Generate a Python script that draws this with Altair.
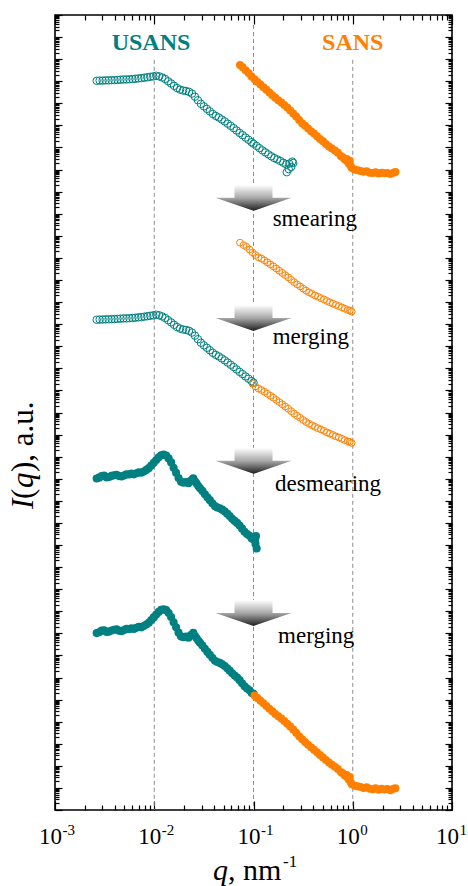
import altair as alt
import pandas as pd

TEAL = "#008080"
ORANGE = "#ff8000"
FONT = "Liberation Serif"

# ---------------- data (log10 q in nm^-1, log10 I in a.u.) ----------------
# slit-smeared USANS (top panel)
usans_sm_lq = [-2.58, -2.55, -2.52, -2.49, -2.46, -2.43, -2.40, -2.37, -2.34, -2.31, -2.28, -2.25,
               -2.22, -2.19, -2.16, -2.13, -2.10, -2.07, -2.04, -2.01, -1.98, -1.95, -1.92, -1.89,
               -1.86, -1.83, -1.80, -1.77, -1.74, -1.71, -1.68, -1.65, -1.62, -1.59, -1.56, -1.53,
               -1.50, -1.47, -1.44, -1.41, -1.38, -1.35, -1.32, -1.29, -1.26, -1.23, -1.20, -1.17,
               -1.14, -1.11, -1.08, -1.05, -1.02, -1.00, -0.97, -0.94, -0.91, -0.88, -0.85, -0.82,
               -0.79, -0.76, -0.73, -0.70, -0.67, -0.64, -0.61, -0.665, -0.62, -0.645, -0.60]
usans_sm_le = [33.02, 33.03, 33.03, 33.04, 33.04, 33.05, 33.05, 33.06, 33.07, 33.08, 33.08, 33.09,
               33.10, 33.11, 33.13, 33.14, 33.16, 33.18, 33.20, 33.22, 33.25, 33.22, 33.17, 33.10,
               33.00, 32.90, 32.79, 32.69, 32.62, 32.58, 32.56, 32.52, 32.44, 32.30, 32.14, 31.98,
               31.86, 31.75, 31.64, 31.52, 31.43, 31.36, 31.27, 31.18, 31.08, 30.98, 30.88, 30.77,
               30.66, 30.56, 30.45, 30.35, 30.24, 30.17, 30.07, 29.97, 29.87, 29.78, 29.69, 29.60,
               29.52, 29.46, 29.39, 29.31, 29.24, 29.27, 29.36, 28.88, 29.12, 29.02, 29.30]

# SANS (top panel)
sans_lq = [-1.136, -1.11, -1.08, -1.05, -1.02, -0.99, -0.96, -0.93, -0.90, -0.87, -0.84, -0.81,
           -0.78, -0.75, -0.72, -0.69, -0.66, -0.63, -0.60, -0.57, -0.54, -0.51, -0.48, -0.45,
           -0.42, -0.39, -0.36, -0.33, -0.30, -0.27, -0.24, -0.21, -0.18, -0.15, -0.12, -0.10,
           -0.08, -0.06, -0.05, -0.04, -0.03, -0.02, -0.01, 0.02, 0.05, 0.08, 0.11, 0.14, 0.17,
           0.20, 0.23, 0.26, 0.29, 0.32, 0.35, 0.38, 0.41, 0.43]
sans_le = [33.74, 33.63, 33.50, 33.37, 33.22, 33.09, 32.97, 32.85, 32.73, 32.61, 32.49, 32.37,
           32.25, 32.14, 32.04, 31.93, 31.81, 31.68, 31.54, 31.40, 31.24, 31.10, 30.98, 30.86,
           30.74, 30.63, 30.51, 30.39, 30.28, 30.16, 30.05, 29.95, 29.86, 29.76, 29.62, 29.56,
           29.46, 29.48, 29.36, 29.28, 29.40, 29.16, 29.07, 29.00, 28.97, 28.94, 28.90, 28.93, 28.86,
           28.84, 28.88, 28.82, 28.86, 28.83, 28.85, 28.80, 28.86, 28.89]

# slit-smeared SANS (second panel)
sans_sm_lq = [-1.136, -1.10, -1.07, -1.04, -1.01, -0.98, -0.95, -0.92, -0.89, -0.86, -0.83, -0.80,
              -0.77, -0.74, -0.71, -0.68, -0.65, -0.62, -0.59, -0.56, -0.53, -0.50, -0.47, -0.44,
              -0.41, -0.38, -0.35, -0.32, -0.29, -0.26, -0.23, -0.20, -0.17, -0.14, -0.11, -0.08,
              -0.05, -0.03, -0.011]
sans_sm_le = [25.69, 25.58, 25.50, 25.38, 25.25, 25.13, 25.03, 24.97, 24.89, 24.80, 24.71, 24.62,
              24.52, 24.42, 24.32, 24.22, 24.12, 24.01, 23.90, 23.80, 23.71, 23.61, 23.52, 23.44,
              23.37, 23.30, 23.24, 23.18, 23.12, 23.05, 22.99, 22.93, 22.87, 22.82, 22.76, 22.70,
              22.64, 22.62, 22.57]

# desmeared USANS (fourth panel)
usans_ds_lq = [-2.580, -2.555, -2.530, -2.505, -2.480, -2.455, -2.430, -2.405, -2.380, -2.355,
               -2.330, -2.305, -2.280, -2.255, -2.230, -2.205, -2.180, -2.155, -2.130, -2.105,
               -2.080, -2.055, -2.030, -2.005, -1.980, -1.955, -1.930, -1.905, -1.880, -1.855,
               -1.830, -1.805, -1.780, -1.755, -1.730, -1.705, -1.680, -1.655, -1.630, -1.607,
               -1.590, -1.573, -1.555, -1.539, -1.515, -1.490, -1.465, -1.440, -1.415, -1.388,
               -1.365, -1.340, -1.315, -1.290, -1.265, -1.240, -1.215, -1.190, -1.165, -1.140,
               -1.115, -1.090, -1.065, -1.040, -1.018, -1.000, -0.985, -0.975, -0.968, -0.980]
usans_ds_le = [15.01, 15.05, 15.12, 15.14, 15.06, 15.08, 15.13, 15.16, 15.18, 15.12,
               15.10, 15.15, 15.20, 15.19, 15.23, 15.20, 15.25, 15.29, 15.27, 15.33,
               15.40, 15.48, 15.60, 15.72, 15.85, 15.97, 16.06, 16.09, 16.05, 15.92,
               15.74, 15.50, 15.27, 15.03, 14.86, 14.82, 14.85, 14.80, 14.92, 15.02,
               14.88, 14.78, 14.66, 14.57, 14.45, 14.30, 14.16, 14.03, 13.89, 13.76,
               13.70, 13.66, 13.60, 13.52, 13.42, 13.31, 13.19, 13.09, 13.00, 12.88,
               12.74, 12.60, 12.50, 12.42, 12.30, 12.26, 12.23, 12.40, 11.84, 12.05]

# vertical shifts (decades) of the lower panels
shift_usans_sm_merge = -10.82
shift_sans_sm_merge = -5.95
shift_usans_ds_merge = -7.0
shift_sans_merge = -27.9

# annotations
label_q = [0.00927, 1.0]
label_le = [34.42, 34.42]
step_text = ["smearing", "merging", "desmearing", "merging"]
step_q = [0.156, 0.156, 0.165, 0.177]
step_le = [26.45, 21.10, 14.45, 7.56]
arrow_q = [0.1, 0.1, 0.1, 0.1]
arrow_le = [27.72, 22.28, 15.81, 8.92]
grid_q = [0.01, 0.1, 1.0]
grid_top_le = [33.97, 35.55, 33.97]

x_major = [1e-3, 1e-2, 1e-1, 1e0, 1e1]
x_minor = [m * 10.0 ** k for k in range(-3, 1) for m in range(2, 10)]
y_major = [10.0 ** k for k in range(0, 37)]
y_minor = [m * 10.0 ** k for k in range(0, 36) for m in range(2, 10)]


def frame(lq, le, shift=0.0, lo=None, hi=None):
    rows = []
    for a, b in zip(lq, le):
        if lo is not None and a < lo - 1e-9:
            continue
        if hi is not None and a > hi + 1e-9:
            continue
        rows.append({"q": 10.0 ** a, "I": 10.0 ** (b + shift)})
    return pd.DataFrame(rows)


xs = alt.Scale(type="log", domain=[1e-3, 1e1])
ys = alt.Scale(type="log", domain=[1, 1e36])


def pts(df, color, filled, size):
    return alt.Chart(df).mark_point(
        shape="circle", filled=filled, color=color, size=size,
        strokeWidth=1, opacity=1
    ).encode(
        x=alt.X("q:Q", scale=xs, axis=None),
        y=alt.Y("I:Q", scale=ys, axis=None),
    )


open_teal = pd.concat([
    frame(usans_sm_lq, usans_sm_le),
    frame(usans_sm_lq, usans_sm_le, shift_usans_sm_merge, hi=-1.0),
])
open_orange = pd.concat([
    frame(sans_sm_lq, sans_sm_le),
    frame(sans_sm_lq, sans_sm_le, shift_sans_sm_merge, lo=-1.01),
])
filled_teal = pd.concat([
    frame(usans_ds_lq, usans_ds_le),
    frame(usans_ds_lq, usans_ds_le, shift_usans_ds_merge, hi=-1.0),
])
filled_orange = pd.concat([
    frame(sans_lq, sans_le),
    frame(sans_lq, sans_le, shift_sans_merge, lo=-1.0),
])

# grid lines
grid_df = pd.DataFrame({"q": grid_q, "top": [10.0 ** v for v in grid_top_le], "bot": [1.0] * 3})
grid = alt.Chart(grid_df).mark_rule(color="#8c8c8c", strokeDash=[4, 3], strokeWidth=1).encode(
    x=alt.X("q:Q", scale=xs, axis=None),
    y=alt.Y("top:Q", scale=ys, axis=None),
    y2="bot:Q",
)

# arrows
arrow_df = pd.DataFrame({"q": arrow_q, "I": [10.0 ** v for v in arrow_le]})
arrow_path = "M-0.5,-0.342L0.5,-0.342L0.5,0L1,0L0,0.342L-1,0L-0.5,0Z"
arrows = alt.Chart(arrow_df).mark_point(
    shape=arrow_path, size=5776, filled=True, opacity=1, strokeWidth=0,
    fill=alt.LinearGradient(
        gradient="linear", x1=0, y1=0, x2=0, y2=1,
        stops=[alt.GradientStop(color="#ffffff", offset=0),
               alt.GradientStop(color="#a8a8a8", offset=0.5),
               alt.GradientStop(color="#1e1e1e", offset=1)],
    ),
).encode(
    x=alt.X("q:Q", scale=xs, axis=None),
    y=alt.Y("I:Q", scale=ys, axis=None),
)

# step labels
step_df = pd.DataFrame({"q": step_q, "I": [10.0 ** v for v in step_le], "t": step_text})
steps = alt.Chart(step_df).mark_text(
    align="left", baseline="alphabetic", font=FONT, fontSize=23, color="black"
).encode(
    x=alt.X("q:Q", scale=xs, axis=None),
    y=alt.Y("I:Q", scale=ys, axis=None),
    text="t:N",
)

lab_usans = alt.Chart(pd.DataFrame({"q": [label_q[0]], "I": [10.0 ** label_le[0]], "t": ["USANS"]})).mark_text(
    align="center", baseline="alphabetic", font=FONT, fontSize=24, fontWeight="bold", color=TEAL
).encode(x=alt.X("q:Q", scale=xs, axis=None), y=alt.Y("I:Q", scale=ys, axis=None), text="t:N")
lab_sans = alt.Chart(pd.DataFrame({"q": [label_q[1]], "I": [10.0 ** label_le[1]], "t": ["SANS"]})).mark_text(
    align="center", baseline="alphabetic", font=FONT, fontSize=24, fontWeight="bold", color=ORANGE
).encode(x=alt.X("q:Q", scale=xs, axis=None), y=alt.Y("I:Q", scale=ys, axis=None), text="t:N")

# axes (inward ticks via negative offset)
dummy = pd.DataFrame({"q": [1.0], "I": [1.0]})


def tick_axis(orient, values, size):
    return alt.Axis(orient=orient, values=values, labels=False, domain=False, grid=False,
                    ticks=True, tickSize=size, tickWidth=1.2, tickColor="black",
                    offset=-size, title=None)


def axis_layer(xaxis, yaxis):
    return alt.Chart(dummy).mark_point(opacity=0).encode(
        x=alt.X("q:Q", scale=xs, axis=xaxis),
        y=alt.Y("I:Q", scale=ys, axis=yaxis),
    )


ax1 = axis_layer(tick_axis("bottom", x_major, 9), tick_axis("left", y_major, 7))
ax2 = axis_layer(tick_axis("bottom", x_minor, 5), tick_axis("left", y_minor, 4))
ax3 = axis_layer(tick_axis("top", x_major, 9), tick_axis("right", y_major, 7))
ax4 = axis_layer(tick_axis("top", x_minor, 5), tick_axis("right", y_minor, 4))

lab_ten = axis_layer(
    alt.Axis(orient="bottom", values=x_major, labelExpr="'10'", ticks=False, tickSize=0,
             domain=False, grid=False, labelFont=FONT, labelFontSize=23, labelColor="black",
             labelBaseline="alphabetic", labelPadding=33, labelAlign="center", labelOffset=-5,
             labelOverlap=False, labelFlush=False, labelBound=False, title=None),
    None,
)
lab_exp = axis_layer(
    alt.Axis(orient="bottom", values=x_major, labelExpr="'' + round(log(datum.value) / LN10)",
             ticks=False, tickSize=0, domain=False, grid=False, labelFont=FONT,
             labelFontSize=15, labelColor="black", labelBaseline="alphabetic", labelPadding=24,
             labelAlign="left", labelOffset=7, labelOverlap=False, labelFlush=False,
             labelBound=False, title=None),
    None,
)


# axis titles as text pieces
def txt(s, x, y, size, style="normal", angle=0, align="left"):
    return alt.Chart(dummy).mark_text(
        text=s, font=FONT, fontSize=size, fontStyle=style, angle=angle, align=align,
        baseline="alphabetic", color="black"
    ).encode(x=alt.value(x), y=alt.value(y))


xt = [
    txt("q", 158, 865, 30, "italic"),
    txt(", nm", 173, 865, 30),
    txt("-1", 228, 852, 17),
]
yt = [
    txt("I", -22, 494, 31, "italic", angle=270),
    txt("(", -22, 484, 31, angle=270),
    txt("q", -22, 473, 31, "italic", angle=270),
    txt("), a.u.", -22, 457, 31, angle=270),
]

chart = alt.layer(
    grid,
    pts(open_teal, TEAL, False, 56),
    pts(open_orange, ORANGE, False, 46),
    pts(filled_teal, TEAL, True, 66),
    pts(filled_orange, ORANGE, True, 64),
    arrows, steps, lab_usans, lab_sans,
    ax1, ax2, ax3, ax4, lab_ten, lab_exp,
    *xt, *yt,
).resolve_axis(x="independent", y="independent").properties(
    width=397, height=795,
    autosize=alt.AutoSizeParams(type="none"),
    padding={"left": 55, "top": 15, "right": 16, "bottom": 76},
    background="white",
).configure_view(stroke="black", strokeWidth=1.6)

chart.save("out.html", embed_options={"renderer": "svg", "actions": False})
